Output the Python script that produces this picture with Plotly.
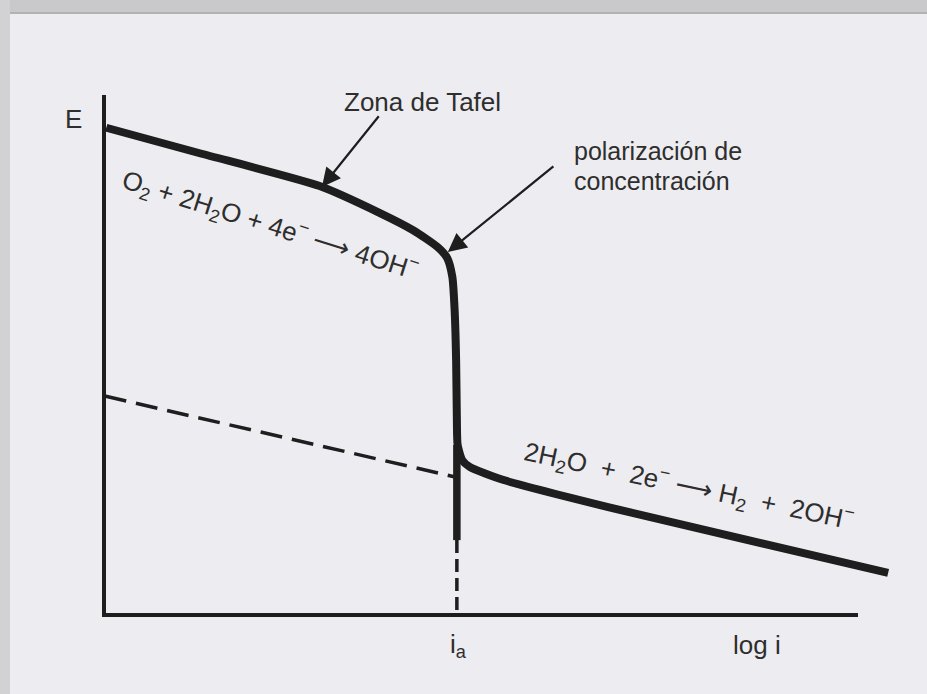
import plotly.graph_objects as go

# ---- data (arbitrary units: x = log i, y = E) ----
curve_x = [0.03, 1.27, 2.86, 3.66, 4.10, 4.42, 4.55, 4.62, 4.65, 4.67, 4.68, 4.69, 4.75, 4.85, 5.29, 6.84, 10.40]
curve_y = [9.37, 8.88, 8.25, 7.73, 7.40, 7.08, 6.87, 6.50, 5.87, 4.90, 3.75, 3.27, 2.98, 2.85, 2.60, 2.02, 0.81]

ia_x = 4.68                    # limiting current position
ia_solid_y = [3.27, 1.44]      # thick vertical part
ia_dash_y = [1.44, 0.0]        # dashed drop to axis

h2_ext_x = [0.01, 4.67]        # dashed extrapolation of H2 line
h2_ext_y = [4.21, 2.65]

axis_x_end = 10.0
axis_y_end = 10.0

tafel_tip = (2.89, 8.23)
tafel_tail = (3.66, 9.62)
conc_tip = (4.56, 6.98)
conc_tail = (5.98, 8.65)

FONT = "Liberation Sans, Arial, sans-serif"
INK = "#1e1e1e"
TXT = "#2e2e2e"

fig = go.Figure()

# axes drawn as lines
fig.add_trace(go.Scatter(x=[0, 0, axis_x_end], y=[axis_y_end, 0, 0], mode="lines",
                         line=dict(color=INK, width=4), hoverinfo="skip"))
# dashed extrapolation
fig.add_trace(go.Scatter(x=h2_ext_x, y=h2_ext_y, mode="lines",
                         line=dict(color=INK, width=3.5, dash="22px,10px"), hoverinfo="skip"))
# vertical at i_a
fig.add_trace(go.Scatter(x=[ia_x, ia_x], y=ia_solid_y, mode="lines",
                         line=dict(color=INK, width=7.5), hoverinfo="skip"))
fig.add_trace(go.Scatter(x=[ia_x, ia_x], y=ia_dash_y, mode="lines",
                         line=dict(color=INK, width=3.5, dash="13px,6px"), hoverinfo="skip"))
# main polarization curve
fig.add_trace(go.Scatter(x=curve_x, y=curve_y, mode="lines", line_shape="spline",
                         line=dict(color=INK, width=8, smoothing=0.6), hoverinfo="skip"))

ann = []
# arrows
for tip, tail in [(tafel_tip, tafel_tail), (conc_tip, conc_tail)]:
    ann.append(dict(x=tip[0], y=tip[1], ax=tail[0], ay=tail[1], xref="x", yref="y",
                    axref="x", ayref="y", text="", showarrow=True, arrowhead=2,
                    arrowsize=1.7, arrowwidth=2.2, arrowcolor=INK, standoff=0))

def label(x, y, text, size=26, angle=0, xanchor="center"):
    ann.append(dict(x=x, y=y, xref="x", yref="y", text=text, showarrow=False,
                    textangle=angle, xanchor=xanchor, yanchor="middle",
                    font=dict(family=FONT, size=size, color=TXT)))

S = "&nbsp;"
label(3.16, 9.87, "Zona de Tafel", xanchor="left")
label(6.21, 8.92, "polarización de", size=25, xanchor="left")
label(6.21, 8.34, "concentración", size=25, xanchor="left")
label(-0.41, 9.54, "E")
label(8.66, -0.58, "log i")
label(4.70, -0.58, "i<sub>a</sub>")
label(2.20, 7.50,
      f"O<sub>2</sub> + 2H<sub>2</sub>O + 4e<sup>−</sup>{S}⟶{S}4OH<sup>−</sup>",
      size=26, angle=17.5)
label(7.76, 2.48,
      f"2H<sub>2</sub>O{S} +{S} 2e<sup>−</sup>{S}⟶{S}H<sub>2</sub>{S} +{S} 2OH<sup>−</sup>",
      size=26, angle=12)

shapes = [
    dict(type="rect", xref="paper", yref="paper", x0=0, x1=1, y0=1 - 13 / 694, y1=1,
         fillcolor="#c9c9cb", line=dict(width=0), layer="below"),
    dict(type="line", xref="paper", yref="paper", x0=0, x1=1, y0=1 - 13 / 694, y1=1 - 13 / 694,
         line=dict(color="#b2b2b4", width=2), layer="below"),
    dict(type="rect", xref="paper", yref="paper", x0=0, x1=10 / 927, y0=0, y1=1,
         fillcolor="#d2d2d4", line=dict(width=0), layer="below"),
]

# pixel mapping: px = 104 + 75.4*x, py = 615 - 52*y
fig.update_layout(
    width=927, height=694,
    margin=dict(l=0, r=0, t=0, b=0),
    paper_bgcolor="#edecf0", plot_bgcolor="#edecf0",
    showlegend=False,
    xaxis=dict(range=[-104 / 75.4, (927 - 104) / 75.4], visible=False, fixedrange=True),
    yaxis=dict(range=[(615 - 694) / 52, 615 / 52], visible=False, fixedrange=True),
    annotations=ann,
    shapes=shapes,
)

fig.write_html("out.html", config={"displayModeBar": False},
               post_script="document.body.style.margin='0';document.body.style.overflow='hidden';")
